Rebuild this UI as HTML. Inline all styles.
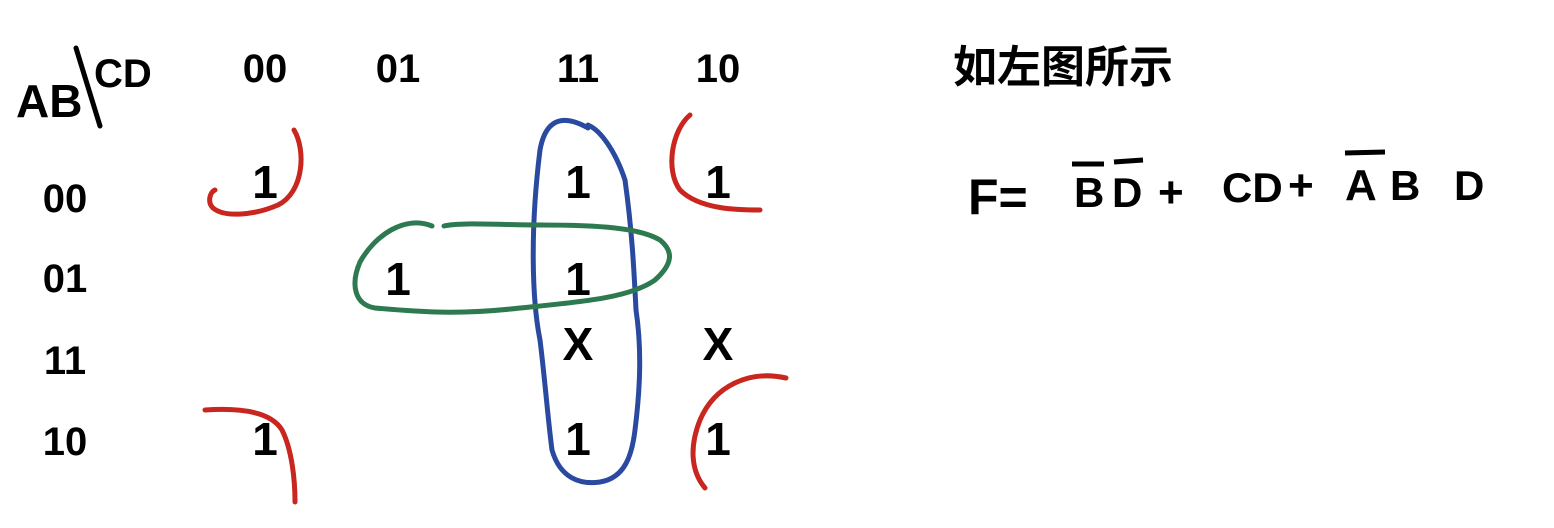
<!DOCTYPE html>
<html><head><meta charset="utf-8"><style>
html,body{margin:0;padding:0;background:#fff;}
svg{display:block}
text{font-family:"Liberation Sans","Noto Sans CJK SC",sans-serif;fill:#000;font-weight:bold;}
</style></head><body>
<svg id="kmap" width="1554" height="528" viewBox="0 0 1554 528" xmlns="http://www.w3.org/2000/svg">
<g>
<text x="16" y="117" font-size="46">AB</text>
<line x1="76" y1="48" x2="100" y2="126" stroke="#000" stroke-width="5" stroke-linecap="round"/>
<text x="94" y="87" font-size="40">CD</text>
</g>
<g id="headers"></g>
<g id="cells"></g>
<g fill="none" stroke-width="5" stroke-linecap="round">
<path stroke="#c8261e" d="M294 130 C306 150 304 192 278 205 C255 215 225 218 213 208 C207 202 210 192 215 190"/>
<path stroke="#c8261e" d="M690 115 C672 130 665 170 680 190 C700 210 740 210 760 210"/>
<path stroke="#c8261e" d="M205 410 C235 408 270 410 282 430 C292 450 295 480 295 502"/>
<path stroke="#c8261e" d="M786 378 C750 370 715 385 700 420 C690 445 690 470 705 488"/>
<path stroke="#2a4aa0" d="M588 128 C560 112 545 122 540 150 C530 230 532 300 540 340 C545 380 548 420 552 450 C560 478 580 485 600 482 C625 478 632 455 635 430 C640 390 642 350 636 310 C634 270 632 230 625 180 C615 150 600 130 588 125"/>
<path stroke="#2e7a50" d="M432 226 C405 215 375 235 360 262 C350 285 355 305 375 308 C420 312 460 315 520 308 C580 302 630 298 655 280 C675 262 672 250 660 240 C640 228 600 225 540 225 C500 225 460 222 444 226"/>
</g>
<text x="953" y="82" font-size="44" font-weight="normal">如左图所示</text>
<g>
<text x="968" y="214" font-size="50">F=</text>
<text x="1074" y="207" font-size="42">B</text>
<line x1="1072" y1="164" x2="1104" y2="164" stroke="#000" stroke-width="5"/>
<text x="1112" y="207" font-size="42">D</text>
<line x1="1114" y1="162" x2="1143" y2="160" stroke="#000" stroke-width="5"/>
<text x="1158" y="207" font-size="44">+</text>
<text x="1222" y="202" font-size="42">CD</text>
<text x="1288" y="200" font-size="44">+</text>
<text x="1345" y="200" font-size="44">A</text>
<line x1="1345" y1="153" x2="1385" y2="152" stroke="#000" stroke-width="5"/>
<text x="1390" y="200" font-size="42">B</text>
<text x="1454" y="200" font-size="42">D</text>
</g>
</svg>
<script>
const colLabels = ["00","01","11","10"];
const rowLabels = ["00","01","11","10"];
const cellValues = [
 ["1","","1","1"],
 ["","1","1",""],
 ["","","X","X"],
 ["1","","1","1"]
];
const NS="http://www.w3.org/2000/svg";
const colX = i => [265,398,578,718][i];
const rowY = j => [198,295,360,455][j];
const rowLabelY = j => [212,292,374,455][j];
const hdr=document.getElementById('headers');
colLabels.forEach((l,i)=>{const t=document.createElementNS(NS,'text');
t.setAttribute('x',colX(i));t.setAttribute('y',82);t.setAttribute('font-size','40');t.setAttribute('text-anchor','middle');t.textContent=l;


hdr.appendChild(t);});
rowLabels.forEach((l,j)=>{const t=document.createElementNS(NS,'text');
t.setAttribute('x',65);t.setAttribute('y',rowLabelY(j));t.setAttribute('font-size','40');t.setAttribute('text-anchor','middle');t.textContent=l;


hdr.appendChild(t);});
const cg=document.getElementById('cells');
cellValues.forEach((row,j)=>row.forEach((v,i)=>{if(!v)return;const t=document.createElementNS(NS,'text');
t.setAttribute('x',colX(i));t.setAttribute('y',rowY(j));t.setAttribute('font-size','46');t.setAttribute('text-anchor','middle');t.textContent=v;


cg.appendChild(t);}));
</script>
</body></html>
